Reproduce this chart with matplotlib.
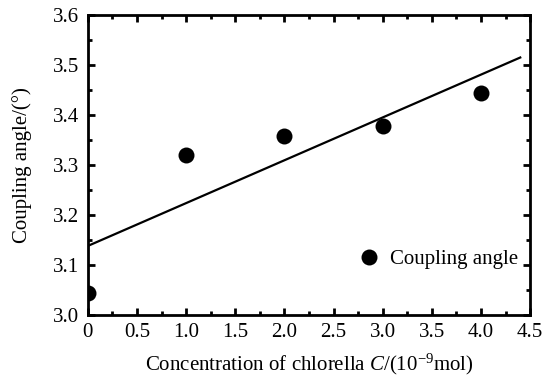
import numpy as np
import matplotlib
matplotlib.use('Agg')
import matplotlib.pyplot as plt
from matplotlib.ticker import MultipleLocator, FuncFormatter

plt.rcParams['font.family'] = 'Liberation Serif'
plt.rcParams['mathtext.fontset'] = 'custom'
plt.rcParams['mathtext.rm'] = 'Liberation Serif'
plt.rcParams['mathtext.it'] = 'Liberation Serif:italic'

# measured points
conc = [0.0, 1.0, 2.0, 3.0, 4.0]
angle = [3.043, 3.320, 3.357, 3.378, 3.443]
# fitted line end points
fit_x = [0.0, 4.4]
fit_y = [3.138, 3.515]

fig = plt.figure(figsize=(5.42, 3.85), dpi=100)
ax = fig.add_axes([0.162, 0.182, 0.816, 0.779])

ax.plot(fit_x, fit_y, '-', color='black', lw=1.6)
ax.plot(conc, angle, 'o', color='black', ms=11.5, mew=0, label='Coupling angle')

ax.set_xlim(0, 4.5)
ax.set_ylim(3.0, 3.6)
ax.xaxis.set_major_locator(MultipleLocator(0.5))
ax.xaxis.set_minor_locator(MultipleLocator(0.25))
ax.yaxis.set_major_locator(MultipleLocator(0.1))
ax.yaxis.set_minor_locator(MultipleLocator(0.05))
ax.xaxis.set_major_formatter(FuncFormatter(lambda v, p: '0' if v == 0 else f'{v:.1f}'))
ax.tick_params(which='both', direction='in', top=True, right=True, labelsize=15, width=2)
ax.tick_params(which='major', length=5, pad=6)
ax.tick_params(which='minor', length=3)
for s in ax.spines.values():
    s.set_linewidth(2)

ax.set_xlabel(r'Concentration of chlorella $\mathit{C}$/(10$^{-9}$mol)', fontsize=15, labelpad=7)
ax.set_ylabel('Coupling angle/(°)', fontsize=15, labelpad=15)
ax.legend(loc='lower right', bbox_to_anchor=(1.015, 0.09), frameon=False, fontsize=15,
          handletextpad=0.0, markerscale=1.0)

fig.savefig('out.png', dpi=100)
